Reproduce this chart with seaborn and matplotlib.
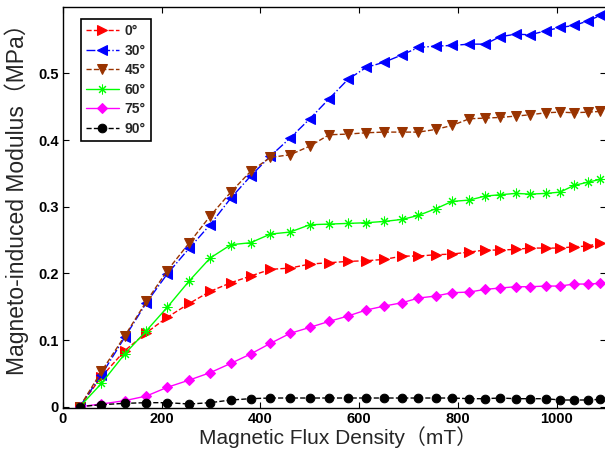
import pandas as pd
import matplotlib
matplotlib.use('Agg')
import matplotlib.pyplot as plt
import seaborn as sns

# flux density (mT) shared by every curve
flux = [34, 78, 125, 169, 211, 256, 298, 340, 380, 420, 460, 500, 539, 577, 614,
        651, 687, 720, 755, 788, 823, 855, 885, 917, 946, 978, 1007, 1035, 1064, 1088]

# magneto-induced modulus (MPa) per angle
mod_0 = [0, 0.045, 0.084, 0.111, 0.134, 0.155, 0.173, 0.186, 0.196, 0.206, 0.208, 0.214,
         0.216, 0.218, 0.219, 0.221, 0.226, 0.226, 0.228, 0.229, 0.232, 0.235, 0.235,
         0.236, 0.238, 0.238, 0.238, 0.240, 0.241, 0.246]
mod_30 = [0, 0.048, 0.104, 0.156, 0.199, 0.238, 0.273, 0.313, 0.346, 0.376, 0.403, 0.432,
          0.462, 0.491, 0.509, 0.517, 0.528, 0.539, 0.541, 0.542, 0.544, 0.544, 0.555,
          0.559, 0.558, 0.564, 0.569, 0.572, 0.579, 0.587]
mod_45 = [0, 0.053, 0.106, 0.158, 0.204, 0.246, 0.286, 0.322, 0.353, 0.374, 0.378, 0.391,
          0.408, 0.409, 0.411, 0.412, 0.412, 0.412, 0.416, 0.422, 0.432, 0.433, 0.434,
          0.436, 0.438, 0.441, 0.442, 0.441, 0.442, 0.443]
mod_60 = [0, 0.035, 0.079, 0.114, 0.149, 0.189, 0.223, 0.243, 0.246, 0.259, 0.262, 0.273,
          0.274, 0.275, 0.276, 0.278, 0.281, 0.287, 0.297, 0.308, 0.310, 0.316, 0.318,
          0.320, 0.319, 0.320, 0.322, 0.332, 0.337, 0.341]
mod_75 = [0, 0.004, 0.009, 0.016, 0.029, 0.040, 0.051, 0.065, 0.079, 0.095, 0.110, 0.119,
          0.128, 0.136, 0.145, 0.151, 0.156, 0.163, 0.166, 0.171, 0.172, 0.176, 0.178,
          0.180, 0.180, 0.181, 0.181, 0.184, 0.184, 0.185]
mod_90 = [0, 0.003, 0.005, 0.006, 0.006, 0.004, 0.006, 0.010, 0.012, 0.013, 0.013, 0.013,
          0.013, 0.013, 0.013, 0.013, 0.013, 0.013, 0.013, 0.013, 0.012, 0.012, 0.013,
          0.012, 0.012, 0.012, 0.010, 0.010, 0.010, 0.011]

angles = ['0°', '30°', '45°', '60°', '75°', '90°']
values = [mod_0, mod_30, mod_45, mod_60, mod_75, mod_90]

# style per curve: colour, marker, linestyle, markersize
styles = [
    ('#ff0000', '>', '--', 7),
    ('#0000ff', '<', '-.', 7),
    ('#993300', 'v', '--', 7),
    ('#00ff00', (8, 2, 0), '-', 7),
    ('#ff00ff', 'D', '-', 5.5),
    ('#000000', 'o', '--', 6.2),
]

sns.set_style('ticks')
plt.rcParams['font.family'] = ['Liberation Sans', 'Noto Sans CJK SC', 'DejaVu Sans']

fig = plt.figure(figsize=(6.05, 4.54), dpi=100)
ax = fig.add_axes([0.1041, 0.1013, 0.8977, 0.8837])

for name, vals, (col, mk, ls, ms) in zip(angles, values, styles):
    df = pd.DataFrame({'flux': flux, 'mod': vals})
    sns.lineplot(data=df, x='flux', y='mod', ax=ax, color=col, marker=mk,
                 linestyle=ls, markersize=ms, markeredgecolor=col,
                 markerfacecolor=col, linewidth=1.0, label=name, errorbar=None)

ax.set_xlim(0, 1100)
ax.set_ylim(-0.002, 0.6)
ax.set_xticks([0, 200, 400, 600, 800, 1000])
ax.set_yticks([0, 0.1, 0.2, 0.3, 0.4, 0.5])
ax.set_yticklabels(['0', '0.1', '0.2', '0.3', '0.4', '0.5'])
ax.tick_params(direction='in', length=4, width=0.8, top=True, right=True,
               labelsize=10.5, pad=3, colors='black')
for lbl in ax.get_xticklabels() + ax.get_yticklabels():
    lbl.set_fontweight('bold')
for sp in ax.spines.values():
    sp.set_linewidth(1.0)
    sp.set_color('black')

ax.set_xlabel('Magnetic Flux Density（mT）', fontsize=15)
ax.set_ylabel('Magneto-induced Modulus（MPa）', fontsize=16.5)
ax.xaxis.set_label_coords(0.506, -0.045)
ax.yaxis.set_label_coords(-0.062, 0.535)

leg = ax.legend(loc='upper left', bbox_to_anchor=(0.033, 0.969), frameon=True,
                fancybox=False, edgecolor='black', framealpha=1, borderaxespad=0,
                prop={'weight': 'bold', 'size': 10}, handlelength=2.4,
                labelspacing=0.4, handletextpad=0.4, borderpad=0.35)
leg.get_frame().set_linewidth(1.2)

fig.savefig('out.png', dpi=100)
